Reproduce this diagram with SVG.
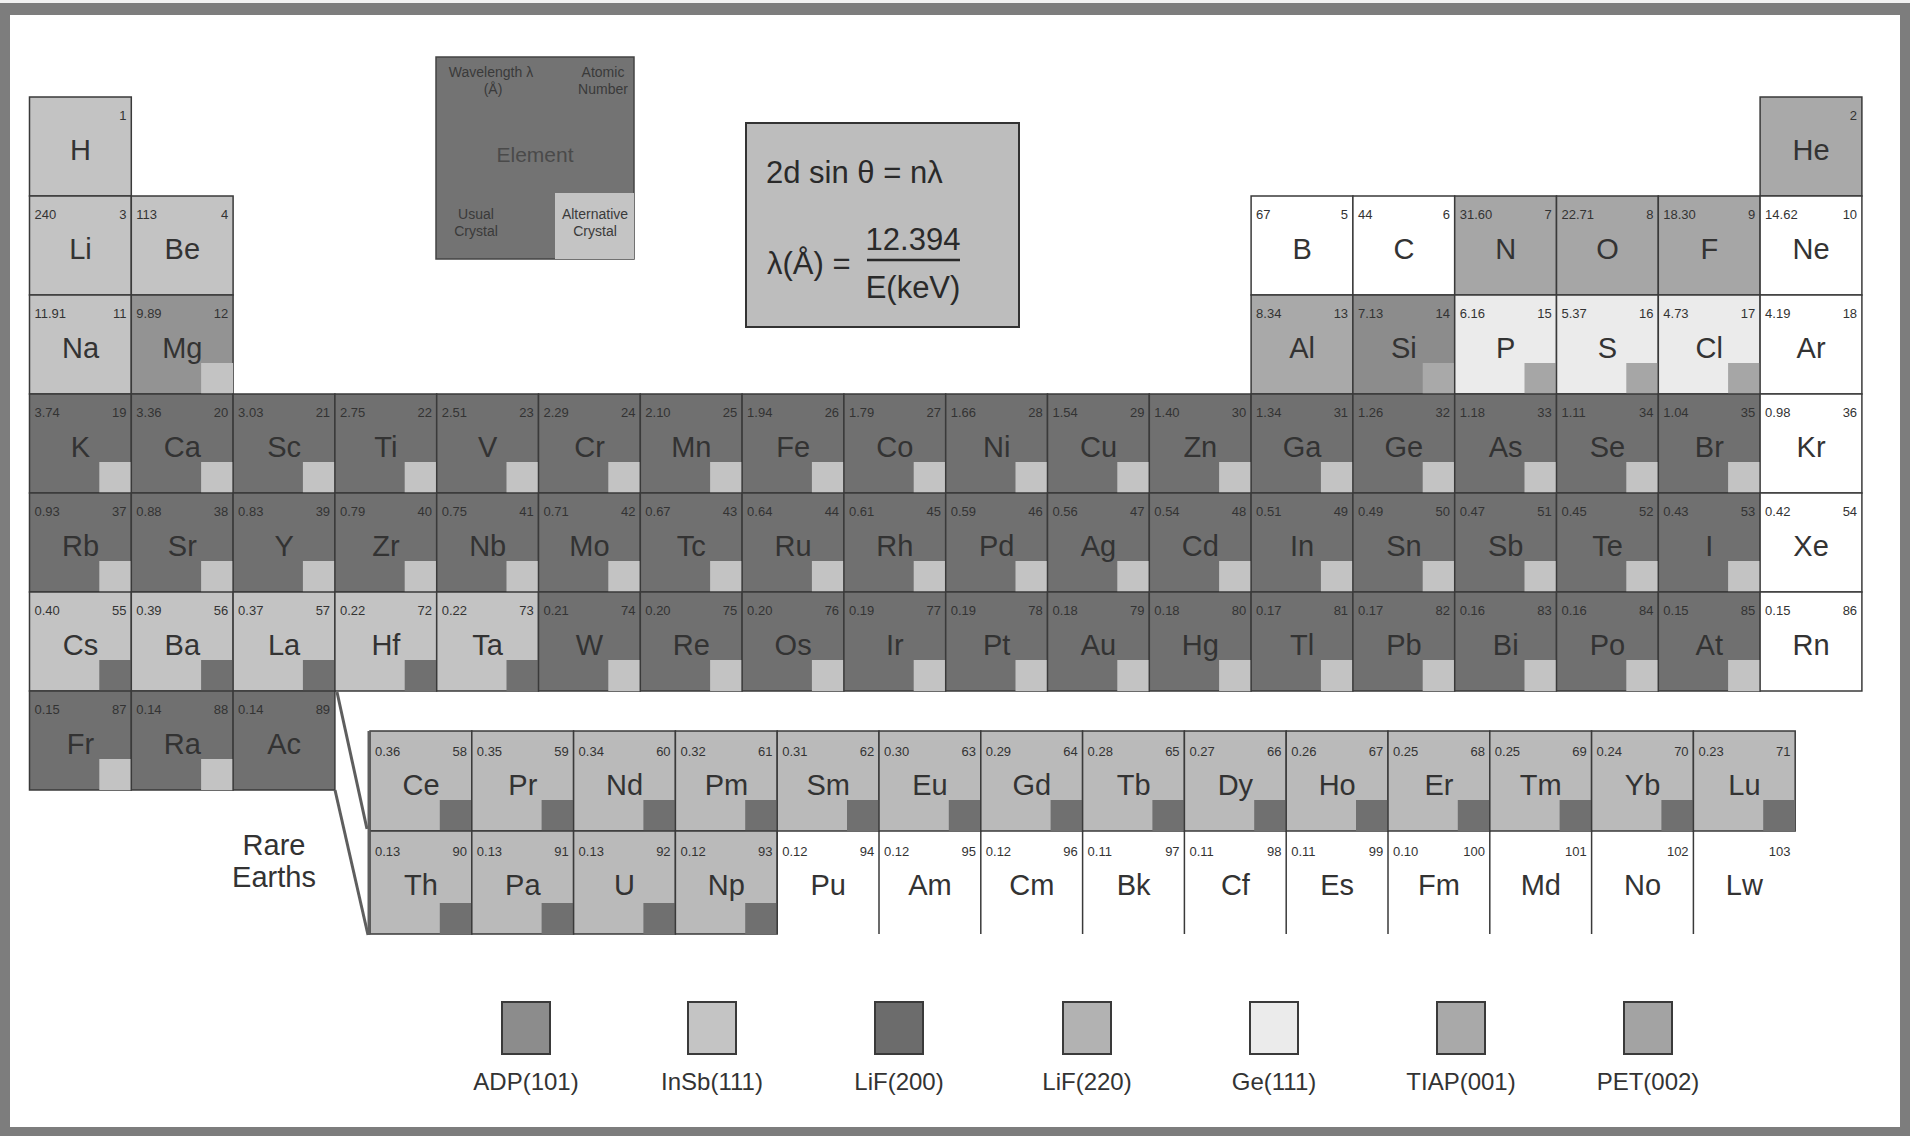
<svg xmlns="http://www.w3.org/2000/svg" width="1910" height="1136" viewBox="0 0 1910 1136">
<style>
.cell{stroke:#3a3a3a;stroke-width:1.5}
.D{fill:#707070}.L{fill:#c3c3c3}.W{fill:#ffffff}.T{fill:#a9a9a9}.A{fill:#939393}.G{fill:#ebebeb}.N{fill:#a6a6a6}.R{fill:#bababa}.S{fill:#8c8c8c}
.sym{font-family:"Liberation Sans",Arial,sans-serif;font-size:29px;fill:#333;text-anchor:middle}
.wl{font-family:"Liberation Sans",Arial,sans-serif;font-size:13px;fill:#333}
.z{font-family:"Liberation Sans",Arial,sans-serif;font-size:13px;fill:#333;text-anchor:end}
.sep{stroke:#3a3a3a;stroke-width:1.5}
.key{font-family:"Liberation Sans",Arial,sans-serif;font-size:14px;fill:#3a3a3a;text-anchor:middle}
.fm{font-family:"Liberation Sans",Arial,sans-serif;font-size:31px;fill:#2a2a2a}
.lg{font-family:"Liberation Sans",Arial,sans-serif;font-size:24px;fill:#333;text-anchor:middle}
.lb{stroke:#3a3a3a;stroke-width:2}
</style>
<rect x="0" y="0" width="1910" height="1136" fill="#7d7d7d"/>
<rect x="0" y="0" width="1910" height="3" fill="#f2f2f2"/>
<rect x="10" y="15" width="1890" height="1112" fill="#ffffff"/>

<g id="key">
<rect x="436" y="57" width="198" height="202" fill="#737373" stroke="#444" stroke-width="1.5"/>
<rect x="555" y="193" width="79" height="66" fill="#c4c4c4"/>
<text class="key" x="491" y="77">Wavelength λ</text>
<text class="key" x="493" y="94">(Å)</text>
<text class="key" x="603" y="77">Atomic</text>
<text class="key" x="603" y="94">Number</text>
<text class="key" x="535" y="162" style="font-size:21px;fill:#4a4a4a">Element</text>
<text class="key" x="476" y="219">Usual</text>
<text class="key" x="476" y="236">Crystal</text>
<text class="key" x="595" y="219">Alternative</text>
<text class="key" x="595" y="236">Crystal</text>
</g>

<g id="formula">
<rect x="746" y="123" width="273" height="204" fill="#bdbdbd" stroke="#333" stroke-width="2"/>
<text class="fm" x="766" y="183">2d sin θ = nλ</text>
<text class="fm" x="767" y="274">λ(Å) =</text>
<text class="fm" x="913" y="250" text-anchor="middle">12.394</text>
<line x1="867" y1="260" x2="960" y2="260" stroke="#2a2a2a" stroke-width="2.5"/>
<text class="fm" x="913" y="298" text-anchor="middle">E(keV)</text>
</g>

<g id="main-table">
<g id="H" transform="translate(29.5,97)"><rect class="cell L" width="101.8" height="99"/><text class="z" x="97" y="23">1</text><text class="sym" x="51" y="63">H</text></g>
<g id="He" transform="translate(1760.1,97)"><rect class="cell T" width="101.8" height="99"/><text class="z" x="97" y="23">2</text><text class="sym" x="51" y="63">He</text></g>
<g id="Li" transform="translate(29.5,196)"><rect class="cell L" width="101.8" height="99"/><text class="wl" x="5" y="23">240</text><text class="z" x="97" y="23">3</text><text class="sym" x="51" y="63">Li</text></g>
<g id="Be" transform="translate(131.3,196)"><rect class="cell L" width="101.8" height="99"/><text class="wl" x="5" y="23">113</text><text class="z" x="97" y="23">4</text><text class="sym" x="51" y="63">Be</text></g>
<g id="B" transform="translate(1251.1,196)"><rect class="cell W" width="101.8" height="99"/><text class="wl" x="5" y="23">67</text><text class="z" x="97" y="23">5</text><text class="sym" x="51" y="63">B</text></g>
<g id="C" transform="translate(1352.9,196)"><rect class="cell W" width="101.8" height="99"/><text class="wl" x="5" y="23">44</text><text class="z" x="97" y="23">6</text><text class="sym" x="51" y="63">C</text></g>
<g id="N" transform="translate(1454.7,196)"><rect class="cell N" width="101.8" height="99"/><text class="wl" x="5" y="23">31.60</text><text class="z" x="97" y="23">7</text><text class="sym" x="51" y="63">N</text></g>
<g id="O" transform="translate(1556.5,196)"><rect class="cell N" width="101.8" height="99"/><text class="wl" x="5" y="23">22.71</text><text class="z" x="97" y="23">8</text><text class="sym" x="51" y="63">O</text></g>
<g id="F" transform="translate(1658.3,196)"><rect class="cell N" width="101.8" height="99"/><text class="wl" x="5" y="23">18.30</text><text class="z" x="97" y="23">9</text><text class="sym" x="51" y="63">F</text></g>
<g id="Ne" transform="translate(1760.1,196)"><rect class="cell W" width="101.8" height="99"/><text class="wl" x="5" y="23">14.62</text><text class="z" x="97" y="23">10</text><text class="sym" x="51" y="63">Ne</text></g>
<g id="Na" transform="translate(29.5,295)"><rect class="cell L" width="101.8" height="99"/><text class="wl" x="5" y="23">11.91</text><text class="z" x="97" y="23">11</text><text class="sym" x="51" y="63">Na</text></g>
<g id="Mg" transform="translate(131.3,295)"><rect class="cell A" width="101.8" height="99"/><rect class="L" x="69.8" y="68" width="32" height="31"/><text class="wl" x="5" y="23">9.89</text><text class="z" x="97" y="23">12</text><text class="sym" x="51" y="63">Mg</text></g>
<g id="Al" transform="translate(1251.1,295)"><rect class="cell T" width="101.8" height="99"/><text class="wl" x="5" y="23">8.34</text><text class="z" x="97" y="23">13</text><text class="sym" x="51" y="63">Al</text></g>
<g id="Si" transform="translate(1352.9,295)"><rect class="cell S" width="101.8" height="99"/><rect class="T" x="69.8" y="68" width="32" height="31"/><text class="wl" x="5" y="23">7.13</text><text class="z" x="97" y="23">14</text><text class="sym" x="51" y="63">Si</text></g>
<g id="P" transform="translate(1454.7,295)"><rect class="cell G" width="101.8" height="99"/><rect class="N" x="69.8" y="68" width="32" height="31"/><text class="wl" x="5" y="23">6.16</text><text class="z" x="97" y="23">15</text><text class="sym" x="51" y="63">P</text></g>
<g id="S" transform="translate(1556.5,295)"><rect class="cell G" width="101.8" height="99"/><rect class="N" x="69.8" y="68" width="32" height="31"/><text class="wl" x="5" y="23">5.37</text><text class="z" x="97" y="23">16</text><text class="sym" x="51" y="63">S</text></g>
<g id="Cl" transform="translate(1658.3,295)"><rect class="cell G" width="101.8" height="99"/><rect class="N" x="69.8" y="68" width="32" height="31"/><text class="wl" x="5" y="23">4.73</text><text class="z" x="97" y="23">17</text><text class="sym" x="51" y="63">Cl</text></g>
<g id="Ar" transform="translate(1760.1,295)"><rect class="cell W" width="101.8" height="99"/><text class="wl" x="5" y="23">4.19</text><text class="z" x="97" y="23">18</text><text class="sym" x="51" y="63">Ar</text></g>
<g id="K" transform="translate(29.5,394)"><rect class="cell D" width="101.8" height="99"/><rect class="L" x="69.8" y="68" width="32" height="31"/><text class="wl" x="5" y="23">3.74</text><text class="z" x="97" y="23">19</text><text class="sym" x="51" y="63">K</text></g>
<g id="Ca" transform="translate(131.3,394)"><rect class="cell D" width="101.8" height="99"/><rect class="L" x="69.8" y="68" width="32" height="31"/><text class="wl" x="5" y="23">3.36</text><text class="z" x="97" y="23">20</text><text class="sym" x="51" y="63">Ca</text></g>
<g id="Sc" transform="translate(233.1,394)"><rect class="cell D" width="101.8" height="99"/><rect class="L" x="69.8" y="68" width="32" height="31"/><text class="wl" x="5" y="23">3.03</text><text class="z" x="97" y="23">21</text><text class="sym" x="51" y="63">Sc</text></g>
<g id="Ti" transform="translate(334.9,394)"><rect class="cell D" width="101.8" height="99"/><rect class="L" x="69.8" y="68" width="32" height="31"/><text class="wl" x="5" y="23">2.75</text><text class="z" x="97" y="23">22</text><text class="sym" x="51" y="63">Ti</text></g>
<g id="V" transform="translate(436.7,394)"><rect class="cell D" width="101.8" height="99"/><rect class="L" x="69.8" y="68" width="32" height="31"/><text class="wl" x="5" y="23">2.51</text><text class="z" x="97" y="23">23</text><text class="sym" x="51" y="63">V</text></g>
<g id="Cr" transform="translate(538.5,394)"><rect class="cell D" width="101.8" height="99"/><rect class="L" x="69.8" y="68" width="32" height="31"/><text class="wl" x="5" y="23">2.29</text><text class="z" x="97" y="23">24</text><text class="sym" x="51" y="63">Cr</text></g>
<g id="Mn" transform="translate(640.3,394)"><rect class="cell D" width="101.8" height="99"/><rect class="L" x="69.8" y="68" width="32" height="31"/><text class="wl" x="5" y="23">2.10</text><text class="z" x="97" y="23">25</text><text class="sym" x="51" y="63">Mn</text></g>
<g id="Fe" transform="translate(742.1,394)"><rect class="cell D" width="101.8" height="99"/><rect class="L" x="69.8" y="68" width="32" height="31"/><text class="wl" x="5" y="23">1.94</text><text class="z" x="97" y="23">26</text><text class="sym" x="51" y="63">Fe</text></g>
<g id="Co" transform="translate(843.9,394)"><rect class="cell D" width="101.8" height="99"/><rect class="L" x="69.8" y="68" width="32" height="31"/><text class="wl" x="5" y="23">1.79</text><text class="z" x="97" y="23">27</text><text class="sym" x="51" y="63">Co</text></g>
<g id="Ni" transform="translate(945.7,394)"><rect class="cell D" width="101.8" height="99"/><rect class="L" x="69.8" y="68" width="32" height="31"/><text class="wl" x="5" y="23">1.66</text><text class="z" x="97" y="23">28</text><text class="sym" x="51" y="63">Ni</text></g>
<g id="Cu" transform="translate(1047.5,394)"><rect class="cell D" width="101.8" height="99"/><rect class="L" x="69.8" y="68" width="32" height="31"/><text class="wl" x="5" y="23">1.54</text><text class="z" x="97" y="23">29</text><text class="sym" x="51" y="63">Cu</text></g>
<g id="Zn" transform="translate(1149.3,394)"><rect class="cell D" width="101.8" height="99"/><rect class="L" x="69.8" y="68" width="32" height="31"/><text class="wl" x="5" y="23">1.40</text><text class="z" x="97" y="23">30</text><text class="sym" x="51" y="63">Zn</text></g>
<g id="Ga" transform="translate(1251.1,394)"><rect class="cell D" width="101.8" height="99"/><rect class="L" x="69.8" y="68" width="32" height="31"/><text class="wl" x="5" y="23">1.34</text><text class="z" x="97" y="23">31</text><text class="sym" x="51" y="63">Ga</text></g>
<g id="Ge" transform="translate(1352.9,394)"><rect class="cell D" width="101.8" height="99"/><rect class="L" x="69.8" y="68" width="32" height="31"/><text class="wl" x="5" y="23">1.26</text><text class="z" x="97" y="23">32</text><text class="sym" x="51" y="63">Ge</text></g>
<g id="As" transform="translate(1454.7,394)"><rect class="cell D" width="101.8" height="99"/><rect class="L" x="69.8" y="68" width="32" height="31"/><text class="wl" x="5" y="23">1.18</text><text class="z" x="97" y="23">33</text><text class="sym" x="51" y="63">As</text></g>
<g id="Se" transform="translate(1556.5,394)"><rect class="cell D" width="101.8" height="99"/><rect class="L" x="69.8" y="68" width="32" height="31"/><text class="wl" x="5" y="23">1.11</text><text class="z" x="97" y="23">34</text><text class="sym" x="51" y="63">Se</text></g>
<g id="Br" transform="translate(1658.3,394)"><rect class="cell D" width="101.8" height="99"/><rect class="L" x="69.8" y="68" width="32" height="31"/><text class="wl" x="5" y="23">1.04</text><text class="z" x="97" y="23">35</text><text class="sym" x="51" y="63">Br</text></g>
<g id="Kr" transform="translate(1760.1,394)"><rect class="cell W" width="101.8" height="99"/><text class="wl" x="5" y="23">0.98</text><text class="z" x="97" y="23">36</text><text class="sym" x="51" y="63">Kr</text></g>
<g id="Rb" transform="translate(29.5,493)"><rect class="cell D" width="101.8" height="99"/><rect class="L" x="69.8" y="68" width="32" height="31"/><text class="wl" x="5" y="23">0.93</text><text class="z" x="97" y="23">37</text><text class="sym" x="51" y="63">Rb</text></g>
<g id="Sr" transform="translate(131.3,493)"><rect class="cell D" width="101.8" height="99"/><rect class="L" x="69.8" y="68" width="32" height="31"/><text class="wl" x="5" y="23">0.88</text><text class="z" x="97" y="23">38</text><text class="sym" x="51" y="63">Sr</text></g>
<g id="Y" transform="translate(233.1,493)"><rect class="cell D" width="101.8" height="99"/><rect class="L" x="69.8" y="68" width="32" height="31"/><text class="wl" x="5" y="23">0.83</text><text class="z" x="97" y="23">39</text><text class="sym" x="51" y="63">Y</text></g>
<g id="Zr" transform="translate(334.9,493)"><rect class="cell D" width="101.8" height="99"/><rect class="L" x="69.8" y="68" width="32" height="31"/><text class="wl" x="5" y="23">0.79</text><text class="z" x="97" y="23">40</text><text class="sym" x="51" y="63">Zr</text></g>
<g id="Nb" transform="translate(436.7,493)"><rect class="cell D" width="101.8" height="99"/><rect class="L" x="69.8" y="68" width="32" height="31"/><text class="wl" x="5" y="23">0.75</text><text class="z" x="97" y="23">41</text><text class="sym" x="51" y="63">Nb</text></g>
<g id="Mo" transform="translate(538.5,493)"><rect class="cell D" width="101.8" height="99"/><rect class="L" x="69.8" y="68" width="32" height="31"/><text class="wl" x="5" y="23">0.71</text><text class="z" x="97" y="23">42</text><text class="sym" x="51" y="63">Mo</text></g>
<g id="Tc" transform="translate(640.3,493)"><rect class="cell D" width="101.8" height="99"/><rect class="L" x="69.8" y="68" width="32" height="31"/><text class="wl" x="5" y="23">0.67</text><text class="z" x="97" y="23">43</text><text class="sym" x="51" y="63">Tc</text></g>
<g id="Ru" transform="translate(742.1,493)"><rect class="cell D" width="101.8" height="99"/><rect class="L" x="69.8" y="68" width="32" height="31"/><text class="wl" x="5" y="23">0.64</text><text class="z" x="97" y="23">44</text><text class="sym" x="51" y="63">Ru</text></g>
<g id="Rh" transform="translate(843.9,493)"><rect class="cell D" width="101.8" height="99"/><rect class="L" x="69.8" y="68" width="32" height="31"/><text class="wl" x="5" y="23">0.61</text><text class="z" x="97" y="23">45</text><text class="sym" x="51" y="63">Rh</text></g>
<g id="Pd" transform="translate(945.7,493)"><rect class="cell D" width="101.8" height="99"/><rect class="L" x="69.8" y="68" width="32" height="31"/><text class="wl" x="5" y="23">0.59</text><text class="z" x="97" y="23">46</text><text class="sym" x="51" y="63">Pd</text></g>
<g id="Ag" transform="translate(1047.5,493)"><rect class="cell D" width="101.8" height="99"/><rect class="L" x="69.8" y="68" width="32" height="31"/><text class="wl" x="5" y="23">0.56</text><text class="z" x="97" y="23">47</text><text class="sym" x="51" y="63">Ag</text></g>
<g id="Cd" transform="translate(1149.3,493)"><rect class="cell D" width="101.8" height="99"/><rect class="L" x="69.8" y="68" width="32" height="31"/><text class="wl" x="5" y="23">0.54</text><text class="z" x="97" y="23">48</text><text class="sym" x="51" y="63">Cd</text></g>
<g id="In" transform="translate(1251.1,493)"><rect class="cell D" width="101.8" height="99"/><rect class="L" x="69.8" y="68" width="32" height="31"/><text class="wl" x="5" y="23">0.51</text><text class="z" x="97" y="23">49</text><text class="sym" x="51" y="63">In</text></g>
<g id="Sn" transform="translate(1352.9,493)"><rect class="cell D" width="101.8" height="99"/><rect class="L" x="69.8" y="68" width="32" height="31"/><text class="wl" x="5" y="23">0.49</text><text class="z" x="97" y="23">50</text><text class="sym" x="51" y="63">Sn</text></g>
<g id="Sb" transform="translate(1454.7,493)"><rect class="cell D" width="101.8" height="99"/><rect class="L" x="69.8" y="68" width="32" height="31"/><text class="wl" x="5" y="23">0.47</text><text class="z" x="97" y="23">51</text><text class="sym" x="51" y="63">Sb</text></g>
<g id="Te" transform="translate(1556.5,493)"><rect class="cell D" width="101.8" height="99"/><rect class="L" x="69.8" y="68" width="32" height="31"/><text class="wl" x="5" y="23">0.45</text><text class="z" x="97" y="23">52</text><text class="sym" x="51" y="63">Te</text></g>
<g id="I" transform="translate(1658.3,493)"><rect class="cell D" width="101.8" height="99"/><rect class="L" x="69.8" y="68" width="32" height="31"/><text class="wl" x="5" y="23">0.43</text><text class="z" x="97" y="23">53</text><text class="sym" x="51" y="63">I</text></g>
<g id="Xe" transform="translate(1760.1,493)"><rect class="cell W" width="101.8" height="99"/><text class="wl" x="5" y="23">0.42</text><text class="z" x="97" y="23">54</text><text class="sym" x="51" y="63">Xe</text></g>
<g id="Cs" transform="translate(29.5,592)"><rect class="cell L" width="101.8" height="99"/><rect class="D" x="69.8" y="68" width="32" height="31"/><text class="wl" x="5" y="23">0.40</text><text class="z" x="97" y="23">55</text><text class="sym" x="51" y="63">Cs</text></g>
<g id="Ba" transform="translate(131.3,592)"><rect class="cell L" width="101.8" height="99"/><rect class="D" x="69.8" y="68" width="32" height="31"/><text class="wl" x="5" y="23">0.39</text><text class="z" x="97" y="23">56</text><text class="sym" x="51" y="63">Ba</text></g>
<g id="La" transform="translate(233.1,592)"><rect class="cell L" width="101.8" height="99"/><rect class="D" x="69.8" y="68" width="32" height="31"/><text class="wl" x="5" y="23">0.37</text><text class="z" x="97" y="23">57</text><text class="sym" x="51" y="63">La</text></g>
<g id="Hf" transform="translate(334.9,592)"><rect class="cell L" width="101.8" height="99"/><rect class="D" x="69.8" y="68" width="32" height="31"/><text class="wl" x="5" y="23">0.22</text><text class="z" x="97" y="23">72</text><text class="sym" x="51" y="63">Hf</text></g>
<g id="Ta" transform="translate(436.7,592)"><rect class="cell L" width="101.8" height="99"/><rect class="D" x="69.8" y="68" width="32" height="31"/><text class="wl" x="5" y="23">0.22</text><text class="z" x="97" y="23">73</text><text class="sym" x="51" y="63">Ta</text></g>
<g id="W" transform="translate(538.5,592)"><rect class="cell D" width="101.8" height="99"/><rect class="L" x="69.8" y="68" width="32" height="31"/><text class="wl" x="5" y="23">0.21</text><text class="z" x="97" y="23">74</text><text class="sym" x="51" y="63">W</text></g>
<g id="Re" transform="translate(640.3,592)"><rect class="cell D" width="101.8" height="99"/><rect class="L" x="69.8" y="68" width="32" height="31"/><text class="wl" x="5" y="23">0.20</text><text class="z" x="97" y="23">75</text><text class="sym" x="51" y="63">Re</text></g>
<g id="Os" transform="translate(742.1,592)"><rect class="cell D" width="101.8" height="99"/><rect class="L" x="69.8" y="68" width="32" height="31"/><text class="wl" x="5" y="23">0.20</text><text class="z" x="97" y="23">76</text><text class="sym" x="51" y="63">Os</text></g>
<g id="Ir" transform="translate(843.9,592)"><rect class="cell D" width="101.8" height="99"/><rect class="L" x="69.8" y="68" width="32" height="31"/><text class="wl" x="5" y="23">0.19</text><text class="z" x="97" y="23">77</text><text class="sym" x="51" y="63">Ir</text></g>
<g id="Pt" transform="translate(945.7,592)"><rect class="cell D" width="101.8" height="99"/><rect class="L" x="69.8" y="68" width="32" height="31"/><text class="wl" x="5" y="23">0.19</text><text class="z" x="97" y="23">78</text><text class="sym" x="51" y="63">Pt</text></g>
<g id="Au" transform="translate(1047.5,592)"><rect class="cell D" width="101.8" height="99"/><rect class="L" x="69.8" y="68" width="32" height="31"/><text class="wl" x="5" y="23">0.18</text><text class="z" x="97" y="23">79</text><text class="sym" x="51" y="63">Au</text></g>
<g id="Hg" transform="translate(1149.3,592)"><rect class="cell D" width="101.8" height="99"/><rect class="L" x="69.8" y="68" width="32" height="31"/><text class="wl" x="5" y="23">0.18</text><text class="z" x="97" y="23">80</text><text class="sym" x="51" y="63">Hg</text></g>
<g id="Tl" transform="translate(1251.1,592)"><rect class="cell D" width="101.8" height="99"/><rect class="L" x="69.8" y="68" width="32" height="31"/><text class="wl" x="5" y="23">0.17</text><text class="z" x="97" y="23">81</text><text class="sym" x="51" y="63">Tl</text></g>
<g id="Pb" transform="translate(1352.9,592)"><rect class="cell D" width="101.8" height="99"/><rect class="L" x="69.8" y="68" width="32" height="31"/><text class="wl" x="5" y="23">0.17</text><text class="z" x="97" y="23">82</text><text class="sym" x="51" y="63">Pb</text></g>
<g id="Bi" transform="translate(1454.7,592)"><rect class="cell D" width="101.8" height="99"/><rect class="L" x="69.8" y="68" width="32" height="31"/><text class="wl" x="5" y="23">0.16</text><text class="z" x="97" y="23">83</text><text class="sym" x="51" y="63">Bi</text></g>
<g id="Po" transform="translate(1556.5,592)"><rect class="cell D" width="101.8" height="99"/><rect class="L" x="69.8" y="68" width="32" height="31"/><text class="wl" x="5" y="23">0.16</text><text class="z" x="97" y="23">84</text><text class="sym" x="51" y="63">Po</text></g>
<g id="At" transform="translate(1658.3,592)"><rect class="cell D" width="101.8" height="99"/><rect class="L" x="69.8" y="68" width="32" height="31"/><text class="wl" x="5" y="23">0.15</text><text class="z" x="97" y="23">85</text><text class="sym" x="51" y="63">At</text></g>
<g id="Rn" transform="translate(1760.1,592)"><rect class="cell W" width="101.8" height="99"/><text class="wl" x="5" y="23">0.15</text><text class="z" x="97" y="23">86</text><text class="sym" x="51" y="63">Rn</text></g>
<g id="Fr" transform="translate(29.5,691)"><rect class="cell D" width="101.8" height="99"/><rect class="L" x="69.8" y="68" width="32" height="31"/><text class="wl" x="5" y="23">0.15</text><text class="z" x="97" y="23">87</text><text class="sym" x="51" y="63">Fr</text></g>
<g id="Ra" transform="translate(131.3,691)"><rect class="cell D" width="101.8" height="99"/><rect class="L" x="69.8" y="68" width="32" height="31"/><text class="wl" x="5" y="23">0.14</text><text class="z" x="97" y="23">88</text><text class="sym" x="51" y="63">Ra</text></g>
<g id="Ac" transform="translate(233.1,691)"><rect class="cell D" width="101.8" height="99"/><text class="wl" x="5" y="23">0.14</text><text class="z" x="97" y="23">89</text><text class="sym" x="51" y="63">Ac</text></g>
</g>

<g id="rare-earths">
<g id="Ce" transform="translate(370,731)"><rect class="cell R" width="101.8" height="100"/><rect class="D" x="69.8" y="69" width="32" height="31"/><text class="wl" x="5" y="25">0.36</text><text class="z" x="97" y="25">58</text><text class="sym" x="51" y="64">Ce</text></g>
<g id="Pr" transform="translate(471.8,731)"><rect class="cell R" width="101.8" height="100"/><rect class="D" x="69.8" y="69" width="32" height="31"/><text class="wl" x="5" y="25">0.35</text><text class="z" x="97" y="25">59</text><text class="sym" x="51" y="64">Pr</text></g>
<g id="Nd" transform="translate(573.6,731)"><rect class="cell R" width="101.8" height="100"/><rect class="D" x="69.8" y="69" width="32" height="31"/><text class="wl" x="5" y="25">0.34</text><text class="z" x="97" y="25">60</text><text class="sym" x="51" y="64">Nd</text></g>
<g id="Pm" transform="translate(675.4,731)"><rect class="cell R" width="101.8" height="100"/><rect class="D" x="69.8" y="69" width="32" height="31"/><text class="wl" x="5" y="25">0.32</text><text class="z" x="97" y="25">61</text><text class="sym" x="51" y="64">Pm</text></g>
<g id="Sm" transform="translate(777.2,731)"><rect class="cell R" width="101.8" height="100"/><rect class="D" x="69.8" y="69" width="32" height="31"/><text class="wl" x="5" y="25">0.31</text><text class="z" x="97" y="25">62</text><text class="sym" x="51" y="64">Sm</text></g>
<g id="Eu" transform="translate(879,731)"><rect class="cell R" width="101.8" height="100"/><rect class="D" x="69.8" y="69" width="32" height="31"/><text class="wl" x="5" y="25">0.30</text><text class="z" x="97" y="25">63</text><text class="sym" x="51" y="64">Eu</text></g>
<g id="Gd" transform="translate(980.8,731)"><rect class="cell R" width="101.8" height="100"/><rect class="D" x="69.8" y="69" width="32" height="31"/><text class="wl" x="5" y="25">0.29</text><text class="z" x="97" y="25">64</text><text class="sym" x="51" y="64">Gd</text></g>
<g id="Tb" transform="translate(1082.6,731)"><rect class="cell R" width="101.8" height="100"/><rect class="D" x="69.8" y="69" width="32" height="31"/><text class="wl" x="5" y="25">0.28</text><text class="z" x="97" y="25">65</text><text class="sym" x="51" y="64">Tb</text></g>
<g id="Dy" transform="translate(1184.4,731)"><rect class="cell R" width="101.8" height="100"/><rect class="D" x="69.8" y="69" width="32" height="31"/><text class="wl" x="5" y="25">0.27</text><text class="z" x="97" y="25">66</text><text class="sym" x="51" y="64">Dy</text></g>
<g id="Ho" transform="translate(1286.2,731)"><rect class="cell R" width="101.8" height="100"/><rect class="D" x="69.8" y="69" width="32" height="31"/><text class="wl" x="5" y="25">0.26</text><text class="z" x="97" y="25">67</text><text class="sym" x="51" y="64">Ho</text></g>
<g id="Er" transform="translate(1388,731)"><rect class="cell R" width="101.8" height="100"/><rect class="D" x="69.8" y="69" width="32" height="31"/><text class="wl" x="5" y="25">0.25</text><text class="z" x="97" y="25">68</text><text class="sym" x="51" y="64">Er</text></g>
<g id="Tm" transform="translate(1489.8,731)"><rect class="cell R" width="101.8" height="100"/><rect class="D" x="69.8" y="69" width="32" height="31"/><text class="wl" x="5" y="25">0.25</text><text class="z" x="97" y="25">69</text><text class="sym" x="51" y="64">Tm</text></g>
<g id="Yb" transform="translate(1591.6,731)"><rect class="cell R" width="101.8" height="100"/><rect class="D" x="69.8" y="69" width="32" height="31"/><text class="wl" x="5" y="25">0.24</text><text class="z" x="97" y="25">70</text><text class="sym" x="51" y="64">Yb</text></g>
<g id="Lu" transform="translate(1693.4,731)"><rect class="cell R" width="101.8" height="100"/><rect class="D" x="69.8" y="69" width="32" height="31"/><text class="wl" x="5" y="25">0.23</text><text class="z" x="97" y="25">71</text><text class="sym" x="51" y="64">Lu</text></g>
<g id="Th" transform="translate(370,831)"><rect class="cell R" width="101.8" height="103"/><rect class="D" x="69.8" y="72" width="32" height="31"/><text class="wl" x="5" y="25">0.13</text><text class="z" x="97" y="25">90</text><text class="sym" x="51" y="64">Th</text></g>
<g id="Pa" transform="translate(471.8,831)"><rect class="cell R" width="101.8" height="103"/><rect class="D" x="69.8" y="72" width="32" height="31"/><text class="wl" x="5" y="25">0.13</text><text class="z" x="97" y="25">91</text><text class="sym" x="51" y="64">Pa</text></g>
<g id="U" transform="translate(573.6,831)"><rect class="cell R" width="101.8" height="103"/><rect class="D" x="69.8" y="72" width="32" height="31"/><text class="wl" x="5" y="25">0.13</text><text class="z" x="97" y="25">92</text><text class="sym" x="51" y="64">U</text></g>
<g id="Np" transform="translate(675.4,831)"><rect class="cell R" width="101.8" height="103"/><rect class="D" x="69.8" y="72" width="32" height="31"/><text class="wl" x="5" y="25">0.12</text><text class="z" x="97" y="25">93</text><text class="sym" x="51" y="64">Np</text></g>
<g id="Pu" transform="translate(777.2,831)"><line class="sep" x1="0" y1="0" x2="0" y2="103"/><text class="wl" x="5" y="25">0.12</text><text class="z" x="97" y="25">94</text><text class="sym" x="51" y="64">Pu</text></g>
<g id="Am" transform="translate(879,831)"><line class="sep" x1="0" y1="0" x2="0" y2="103"/><text class="wl" x="5" y="25">0.12</text><text class="z" x="97" y="25">95</text><text class="sym" x="51" y="64">Am</text></g>
<g id="Cm" transform="translate(980.8,831)"><line class="sep" x1="0" y1="0" x2="0" y2="103"/><text class="wl" x="5" y="25">0.12</text><text class="z" x="97" y="25">96</text><text class="sym" x="51" y="64">Cm</text></g>
<g id="Bk" transform="translate(1082.6,831)"><line class="sep" x1="0" y1="0" x2="0" y2="103"/><text class="wl" x="5" y="25">0.11</text><text class="z" x="97" y="25">97</text><text class="sym" x="51" y="64">Bk</text></g>
<g id="Cf" transform="translate(1184.4,831)"><line class="sep" x1="0" y1="0" x2="0" y2="103"/><text class="wl" x="5" y="25">0.11</text><text class="z" x="97" y="25">98</text><text class="sym" x="51" y="64">Cf</text></g>
<g id="Es" transform="translate(1286.2,831)"><line class="sep" x1="0" y1="0" x2="0" y2="103"/><text class="wl" x="5" y="25">0.11</text><text class="z" x="97" y="25">99</text><text class="sym" x="51" y="64">Es</text></g>
<g id="Fm" transform="translate(1388,831)"><line class="sep" x1="0" y1="0" x2="0" y2="103"/><text class="wl" x="5" y="25">0.10</text><text class="z" x="97" y="25">100</text><text class="sym" x="51" y="64">Fm</text></g>
<g id="Md" transform="translate(1489.8,831)"><line class="sep" x1="0" y1="0" x2="0" y2="103"/><text class="z" x="97" y="25">101</text><text class="sym" x="51" y="64">Md</text></g>
<g id="No" transform="translate(1591.6,831)"><line class="sep" x1="0" y1="0" x2="0" y2="103"/><text class="z" x="97" y="25">102</text><text class="sym" x="51" y="64">No</text></g>
<g id="Lw" transform="translate(1693.4,831)"><line class="sep" x1="0" y1="0" x2="0" y2="103"/><text class="z" x="97" y="25">103</text><text class="sym" x="51" y="64">Lw</text></g>
<text id="rare-earths-label" x="274" y="855" style="font-family:'Liberation Sans',Arial,sans-serif;font-size:29px;fill:#333;text-anchor:middle">Rare<tspan x="274" y="887">Earths</tspan></text>
</g>

<g id="connectors" stroke="#5e5e5e" stroke-width="3" fill="none">
<line x1="337" y1="692" x2="367" y2="829"/>
<line x1="335" y1="790" x2="368" y2="935"/>
<line x1="369" y1="731" x2="369" y2="935"/>
</g>

<g id="legend">
<g id="lg-ADP"><rect class="lb" x="502" y="1002" width="48" height="52" fill="#8c8c8c"/><text class="lg" x="526" y="1090">ADP(101)</text></g>
<g id="lg-InSb"><rect class="lb" x="688" y="1002" width="48" height="52" fill="#c4c4c4"/><text class="lg" x="712" y="1090">InSb(111)</text></g>
<g id="lg-LiF200"><rect class="lb" x="875" y="1002" width="48" height="52" fill="#6c6c6c"/><text class="lg" x="899" y="1090">LiF(200)</text></g>
<g id="lg-LiF220"><rect class="lb" x="1063" y="1002" width="48" height="52" fill="#b2b2b2"/><text class="lg" x="1087" y="1090">LiF(220)</text></g>
<g id="lg-Ge"><rect class="lb" x="1250" y="1002" width="48" height="52" fill="#ebebeb"/><text class="lg" x="1274" y="1090">Ge(111)</text></g>
<g id="lg-TIAP"><rect class="lb" x="1437" y="1002" width="48" height="52" fill="#a9a9a9"/><text class="lg" x="1461" y="1090">TIAP(001)</text></g>
<g id="lg-PET"><rect class="lb" x="1624" y="1002" width="48" height="52" fill="#a3a3a3"/><text class="lg" x="1648" y="1090">PET(002)</text></g>
</g>
</svg>
